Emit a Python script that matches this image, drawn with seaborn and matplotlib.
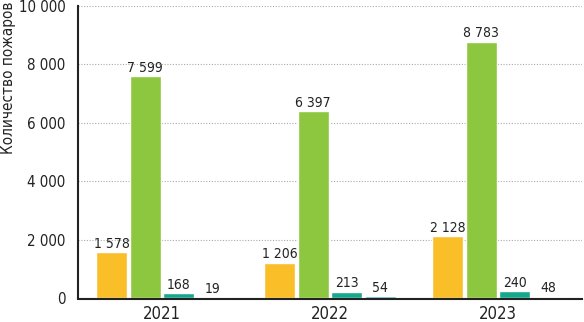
import pandas as pd
import numpy as np
import matplotlib.pyplot as plt
import seaborn as sns
from matplotlib import font_manager

years = ['2021', '2022', '2023']
series = ['s1', 's2', 's3', 's4']
s1 = [1578, 1206, 2128]
s2 = [7599, 6397, 8783]
s3 = [168, 213, 240]
s4 = [19, 54, 48]
colors = ['#F9BE28', '#8DC63F', '#16A88C', '#3AA6C8']

df = pd.DataFrame({
    'year': years * 4,
    'series': np.repeat(series, 3),
    'value': s1 + s2 + s3 + s4,
})

sns.set_style('white')
names = {f.name for f in font_manager.fontManager.ttflist}
if 'Liberation Sans Narrow' in names:
    plt.rcParams['font.family'] = ['Liberation Sans Narrow', 'DejaVu Sans']
else:
    plt.rcParams['font.family'] = ['DejaVu Sans']
    plt.rcParams['font.stretch'] = 'condensed'

fig = plt.figure(figsize=(5.84, 3.22), dpi=100)
ax = fig.add_axes([0.1336, 0.0745, 0.863, 0.9065])

sns.barplot(data=df, x='year', y='value', hue='series', palette=colors,
            width=0.8, gap=0.08, ax=ax, legend=False, saturation=1)

def fmt(v):
    return f'{int(v):,}'.replace(',', ' ')

for cont in ax.containers:
    labels = [fmt(b.get_height()) for b in cont]
    ax.bar_label(cont, labels=labels, padding=1, fontsize=10, color='#222222')

ax.set_ylim(0, 10000)
ax.set_xlim(-0.5, 2.5)
ax.set_yticks(range(0, 10001, 2000))
ax.set_yticklabels([fmt(v) for v in range(0, 10001, 2000)], fontsize=10.8, color='#222222')
ax.tick_params(axis='x', length=0, labelsize=12, labelcolor='#222222', pad=4)
ax.set_xticks([0.5, 1.5, 2.5], minor=True)
ax.tick_params(axis='x', which='minor', length=5, direction='in', color='#222222')
ax.tick_params(axis='y', length=6, direction='out', color='#222222', width=1, pad=3)
ax.yaxis.grid(True, linestyle=(0, (1, 1.5)), color='#aaaaaa', linewidth=0.8)
ax.set_axisbelow(True)
ax.set_ylabel('')
ax.set_xlabel('')
fig.text(0.002, 0.995, 'Количество пожаров', rotation=90, ha='left', va='top',
         fontsize=11, color='#222222')

sns.despine(ax=ax, top=True, right=True)
ax.spines['left'].set_color('#222222')
ax.spines['left'].set_linewidth(1.5)
ax.spines['bottom'].set_color('#222222')
ax.spines['bottom'].set_linewidth(1.5)
ax.spines['bottom'].set_position(('outward', 1))

fig.savefig('out.png', dpi=100)
